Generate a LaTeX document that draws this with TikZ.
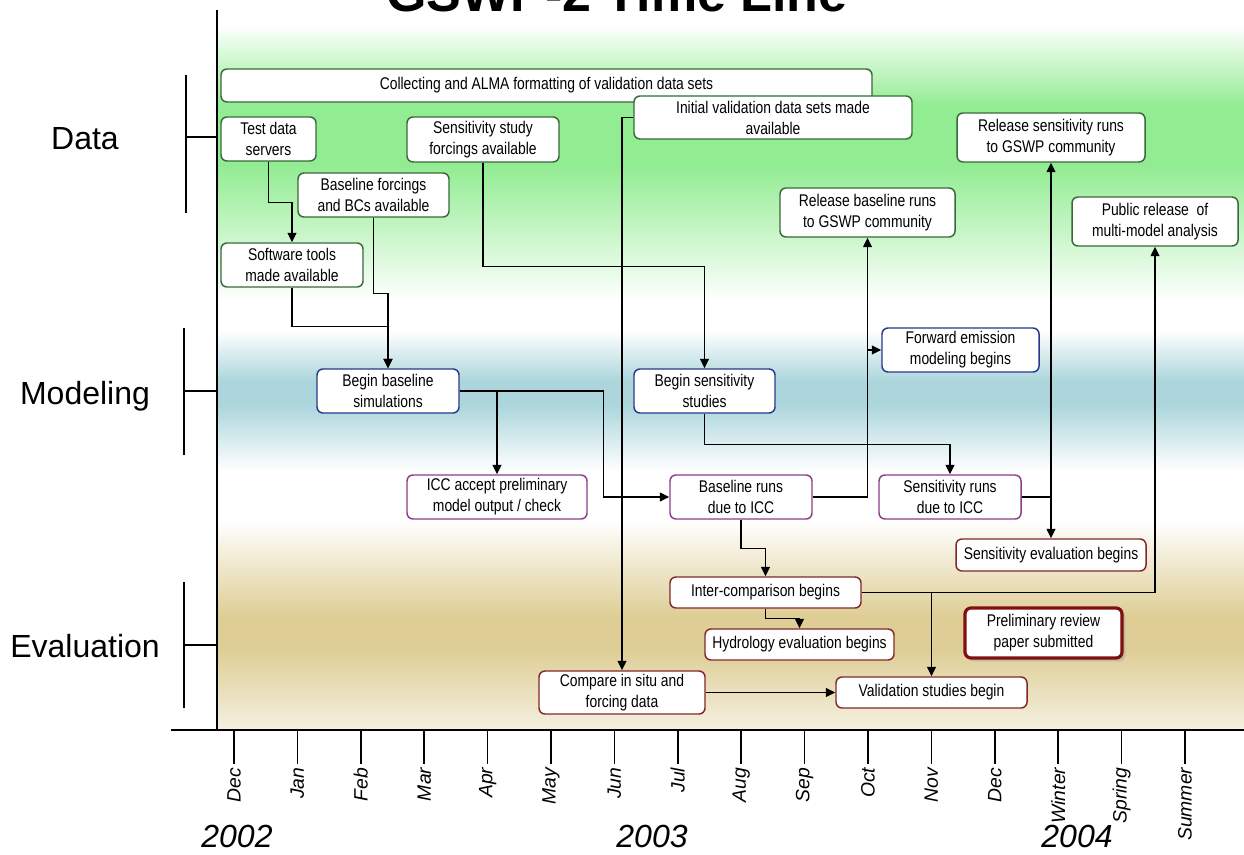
\documentclass[tikz,border=0pt]{standalone}
\usepackage{fontspec}
\setmainfont{Liberation Sans}
\newfontfamily\narrowfont{Liberation Sans}[FakeStretch=0.82]
\usetikzlibrary{arrows.meta,shadows}
\definecolor{bggreen}{RGB}{146,236,146}
\definecolor{bgteal}{RGB}{172,214,220}
\definecolor{bgtan}{RGB}{222,206,150}
\definecolor{bgcream}{RGB}{245,240,226}
\definecolor{datgreen}{RGB}{58,104,58}
\definecolor{modblue}{RGB}{40,56,140}
\definecolor{iccpurple}{RGB}{140,60,140}
\definecolor{evalred}{RGB}{130,40,40}
\definecolor{revred}{RGB}{128,16,16}
\begin{document}
\begin{tikzpicture}[x=0.75pt,y=-0.75pt,
  box/.style={draw,rounded corners=4.5pt,fill=white,line width=1.1pt,align=center,inner sep=1pt,
    font=\narrowfont\fontsize{12.7}{15.7}\selectfont},
  sz/.style 2 args={minimum width=#1*0.75pt,minimum height=#2*0.75pt},
  datbox/.style={box,draw=datgreen},
  modbox/.style={box,draw=modblue},
  iccbox/.style={box,draw=iccpurple},
  evalbox/.style={box,draw=evalred},
  arr/.style={line width=1.1pt,-{Triangle[length=7pt,width=6.5pt]}},
  axis/.style={line width=1.1pt},
  lane/.style={anchor=base,font=\fontsize{24}{28}\selectfont},
  year/.style={anchor=base,inner sep=1pt,font=\itshape\fontsize{24}{28}\selectfont}]
  \useasboundingbox (0,0) rectangle (1244,855);
  \clip (0,0) rectangle (1244,855);
  % background bands
  \shade[top color=white,bottom color=bggreen] (217,25) rectangle (1244,106);
  \fill[bggreen] (217,105) rectangle (1244,166);
  \shade[top color=bggreen,bottom color=white] (217,165) rectangle (1244,301);
  \shade[top color=white,bottom color=bgteal] (217,330) rectangle (1244,381);
  \fill[bgteal] (217,380) rectangle (1244,406);
  \shade[top color=bgteal,bottom color=white] (217,405) rectangle (1244,471);
  \shade[top color=white,bottom color=bgtan] (217,520) rectangle (1244,616);
  \fill[bgtan] (217,615) rectangle (1244,651);
  \shade[top color=bgtan,bottom color=bgcream] (217,650) rectangle (1244,730);

  \node[font=\bfseries\fontsize{39}{45}\selectfont,anchor=base] (title) at (617,12) {GSWP-2 Time Line};

  % axes
  \draw[axis] (217,10) -- (217,730);
  \draw[axis] (171,730) -- (1244,730);
  \foreach \mon [count=\i from 0] in {Dec,Jan,Feb,Mar,Apr,May,Jun,Jul,Aug,Sep,Oct,Nov,Dec,Winter,Spring,Summer}{
    \draw[axis] (234+63.4*\i,730) -- (234+63.4*\i,764);
    \node[rotate=90,anchor=east,font=\itshape\fontsize{14.5}{17}\selectfont] (mon\i) at (234+63.4*\i,763) {\mon};
  }
  \node[year] (y2002) at (237,847) {2002};
  \node[year] (y2003) at (652,847) {2003};
  \node[year] (y2004) at (1077,847) {2004};

  % lanes
  \draw[axis] (186,75) -- (186,213);
  \draw[axis] (186,137) -- (217,137);
  \draw[axis] (184,328) -- (184,455);
  \draw[axis] (184,391) -- (217,391);
  \draw[axis] (184,582) -- (184,708);
  \draw[axis] (184,645) -- (217,645);
  \node[lane] (data) at (85,150) {Data};
  \node[lane] (modeling) at (85,404) {Modeling};
  \node[lane] (evaluation) at (85,657) {Evaluation};

  % data
  \node[datbox,sz={651}{33}] (collect) at (546.5,85.5) {Collecting and ALMA formatting of validation data sets};
  \node[datbox,sz={95}{44}] (testdata) at (268.5,139) {Test data\\servers};
  \node[datbox,sz={152}{45}] (sensforc) at (483,139.5) {Sensitivity study\\forcings available};
  \node[datbox,sz={278}{43}] (initval) at (773,117.5) {Initial validation data sets made\\available};
  \node[datbox,sz={188}{49}] (relsens) at (1051,137.5) {Release sensitivity runs\\to GSWP community};
  \node[datbox,sz={151}{44}] (baseforc) at (373.5,195) {Baseline forcings\\and BCs available};
  \node[datbox,sz={175}{49}] (relbase) at (867.5,212.5) {Release baseline runs\\to GSWP community};
  \node[datbox,sz={166}{49}] (public) at (1155,221.5) {Public release\ \ of\\multi-model analysis};
  \node[datbox,sz={142}{44}] (software) at (292,265) {Software tools\\made available};
  % modeling
  \node[modbox,sz={157}{44}] (forward) at (960.5,350) {Forward emission\\modeling begins};
  \node[modbox,sz={142}{44}] (beginbase) at (388,391) {Begin baseline\\simulations};
  \node[modbox,sz={141}{44}] (beginsens) at (704.5,391) {Begin sensitivity\\studies};
  \node[iccbox,sz={180}{44}] (icc) at (497,497) {ICC accept preliminary\\model output / check};
  \node[iccbox,sz={142}{44}] (baseruns) at (741,497) {Baseline runs\\due to ICC};
  \node[iccbox,sz={142}{44}] (sensruns) at (950,497) {Sensitivity runs\\due to ICC};
  % evaluation
  \node[evalbox,sz={190}{32}] (senseval) at (1051,555) {Sensitivity evaluation begins};
  \node[evalbox,sz={191}{31}] (intercomp) at (765.5,592.5) {Inter-comparison begins};
  \node[evalbox,sz={157}{50},draw=revred,line width=2.4pt,
    drop shadow={fill=gray!70,shadow xshift=2.5pt,shadow yshift=-2.5pt}] (review) at (1043.5,633) {Preliminary review\\paper submitted};
  \node[evalbox,sz={189}{31}] (hydro) at (799.5,644.5) {Hydrology evaluation begins};
  \node[evalbox,sz={166}{43}] (compare) at (622,692.5) {Compare in situ and\\forcing data};
  \node[evalbox,sz={191}{31}] (validation) at (931.5,692.5) {Validation studies begin};

  % links
  \draw[arr] (testdata.south) -- ++(0,41) -| (software.north);
  \draw[arr] (software.south) -- ++(0,39) -| (beginbase.north);
  \draw[arr] (baseforc.south) -- ++(0,76) -| (beginbase.north);
  \draw[arr] (sensforc.south) -- ++(0,104) -| (beginsens.north);
  \draw[arr] (beginbase.east) -| (icc.north);
  \draw[arr] (beginbase.east) -- ++(144,0) |- (baseruns.west);
  \draw[arr] (initval.west) -| (compare.north);
  \draw[arr] (baseruns.east) -| (relbase.south);
  \coordinate (fwdsplit) at (relbase.south |- forward.west);
  \draw[arr] (fwdsplit) -- (forward.west);
  \draw[arr] (baseruns.south) -- ++(0,29) -| (intercomp.north);
  \draw[arr] (beginsens.south) -- ++(0,31) -| (sensruns.north);
  \draw[arr] (sensruns.east) -| (relsens.south);
  \draw[arr] (sensruns.east) -| (senseval.north);
  \draw[arr] (intercomp.east) -| (public.south);
  \draw[arr] (intercomp.east) -| (validation.north);
  \draw[arr] (intercomp.south) -- ++(0,10) -| (hydro.north);
  \draw[arr] (compare.east) -- (validation.west);
\end{tikzpicture}
\end{document}
